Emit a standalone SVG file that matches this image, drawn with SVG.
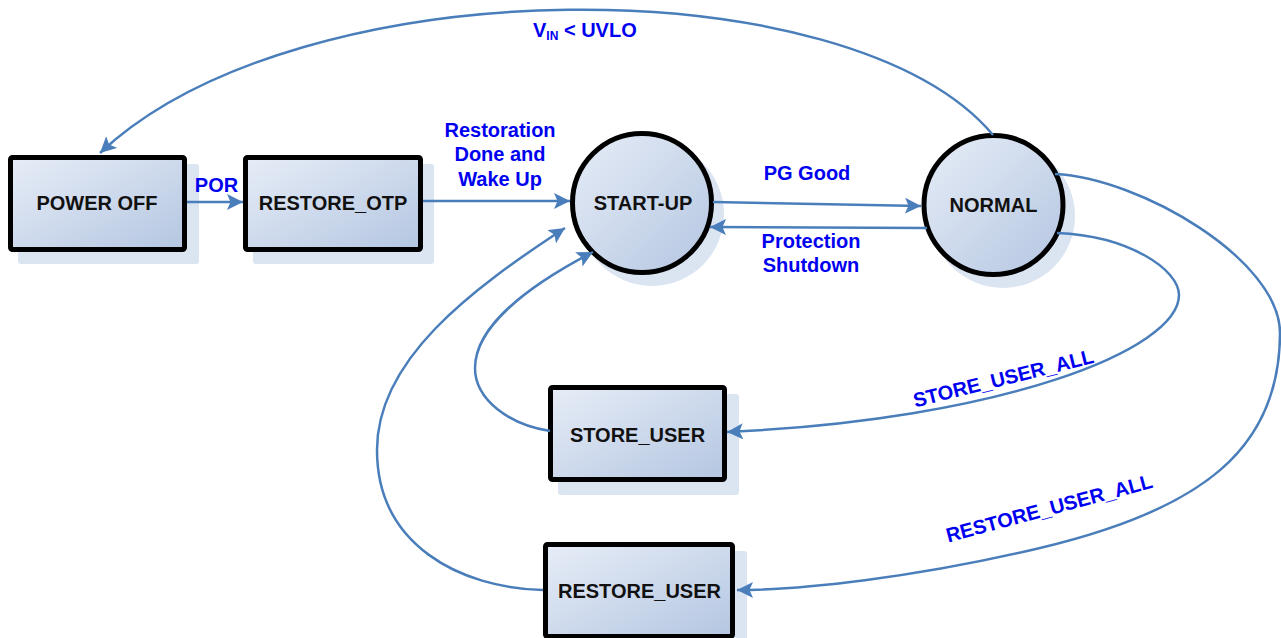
<svg xmlns="http://www.w3.org/2000/svg" width="1281" height="638" viewBox="0 0 1281 638">
<defs>
<linearGradient id="fillG" x1="0" y1="0" x2="1" y2="1">
<stop offset="0" stop-color="#e7edf7"/>
<stop offset="1" stop-color="#b4c6e1"/>
</linearGradient>
<marker id="arr" markerUnits="userSpaceOnUse" markerWidth="17" markerHeight="16" refX="16" refY="8" orient="auto" viewBox="0 0 17 16">
<path d="M0,0 L16,8 L0,16 L3.5,8 z" fill="#4a7ebb"/>
</marker>
<style>
.shadow{fill:#dbe4f1;stroke:none}
.node{fill:url(#fillG);stroke:#000;stroke-width:5}
.lbl{font-family:"Liberation Sans",Arial,sans-serif;font-weight:bold;font-size:20px;fill:#111;text-anchor:middle}
.blue{font-family:"Liberation Sans",Arial,sans-serif;font-weight:bold;font-size:20px;fill:#0000f0;text-anchor:middle}
.edge{fill:none;stroke:#4a7ebb;stroke-width:2.5;marker-end:url(#arr)}
.edge2{fill:none;stroke:#4a7ebb;stroke-width:2.5}
</style>
</defs>
<rect width="1281" height="638" fill="#fff"/>

<g id="power-off">
<rect class="shadow" x="18" y="164" width="181" height="100" rx="3"/>
<rect class="node" x="10.5" y="157.5" width="174" height="92" rx="2"/>
<text class="lbl" x="97" y="210">POWER OFF</text>
</g>
<g id="restore-otp">
<rect class="shadow" x="253" y="164" width="181" height="100" rx="3"/>
<rect class="node" x="245.5" y="157.5" width="175" height="92" rx="2"/>
<text class="lbl" x="333" y="210">RESTORE_OTP</text>
</g>
<g id="start-up">
<circle class="shadow" cx="652" cy="214" r="72"/>
<circle class="node" cx="642" cy="203" r="69.5"/>
<text class="lbl" x="643" y="210">START-UP</text>
</g>
<g id="normal">
<circle class="shadow" cx="1003" cy="216" r="72"/>
<circle class="node" cx="993.5" cy="205" r="69.5"/>
<text class="lbl" x="993.5" y="212">NORMAL</text>
</g>
<g id="store-user">
<rect class="shadow" x="558" y="394" width="181" height="101" rx="3"/>
<rect class="node" x="550.5" y="387.5" width="174" height="92" rx="2"/>
<text class="lbl" x="637.5" y="442">STORE_USER</text>
</g>
<g id="restore-user">
<rect class="shadow" x="553" y="551" width="194" height="100" rx="3"/>
<rect class="node" x="545.5" y="544.5" width="187" height="92" rx="2"/>
<text class="lbl" x="639.5" y="598">RESTORE_USER</text>
</g>

<g id="connectors">
<path class="edge" d="M993,135 C850,-35 300,-35 100,153"/>
<path class="edge" d="M187,202 L243,202"/>
<path class="edge" d="M423,201 L570,201"/>
<path class="edge" d="M713,202 L921,206"/>
<path class="edge" d="M927,228 L710,227"/>
<path class="edge" d="M1057,233 C1130,236 1179,270 1179,295 C1179,350 1000,420 727,432"/>
<path class="edge" d="M1055,174 C1140,178 1280,260 1280,333 C1280,450 1200,510 1040,548 C914,578 800,590 737,590"/>
<path class="edge" d="M550,431 C510,425 475,400 475,368 C475,330 520,290 593,252"/>
<path class="edge" d="M543,590 C460,588 377,545 377,450 C377,360 470,290 565,228"/>
</g>

<g id="labels">
<text class="blue" x="533" y="37" text-anchor="start" style="text-anchor:start">V<tspan font-size="12" dy="3">IN</tspan><tspan dy="-3"> &lt; UVLO</tspan></text>
<text class="blue" x="216.5" y="192">POR</text>
<text class="blue" x="500" y="137">Restoration</text>
<text class="blue" x="500" y="161">Done and</text>
<text class="blue" x="500" y="186">Wake Up</text>
<text class="blue" x="807" y="180">PG Good</text>
<text class="blue" x="811" y="248">Protection</text>
<text class="blue" x="811" y="272">Shutdown</text>
<text class="blue" transform="translate(1005,385) rotate(-14)" x="0" y="0">STORE_USER_ALL</text>
<text class="blue" transform="translate(1051,515) rotate(-15)" x="0" y="0">RESTORE_USER_ALL</text>
</g>
</svg>
